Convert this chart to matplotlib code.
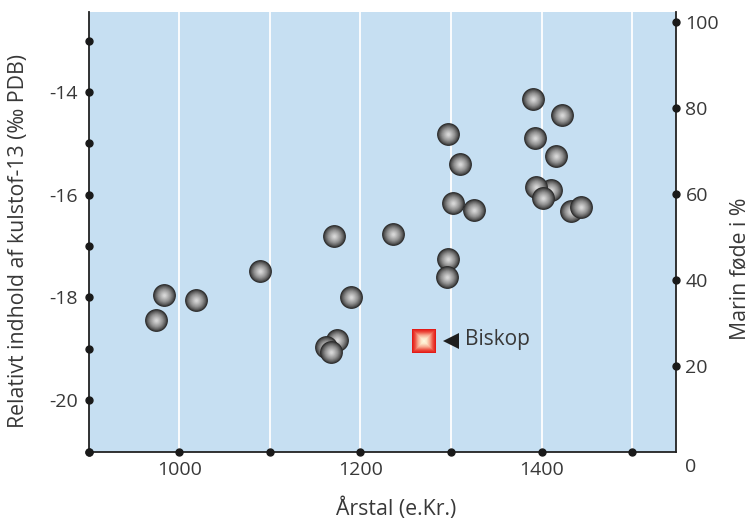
import numpy as np
import matplotlib
matplotlib.use("Agg")
import matplotlib.pyplot as plt
from matplotlib.colors import to_rgb
from matplotlib.transforms import offset_copy

plt.rcParams["font.family"] = ["Open Sans", "DejaVu Sans"]
plt.rcParams["axes.unicode_minus"] = False

# individuals: year (e.Kr.) and delta-13C (promille PDB) -- drawing order matters for overlaps
years = [974, 983, 1019, 1089, 1171, 1190, 1174, 1162, 1167, 1236,
         1297, 1310, 1302, 1325, 1297, 1296, 1391, 1422, 1393, 1416,
         1410, 1394, 1402, 1432, 1443]
d13c = [-18.44, -17.96, -18.04, -17.49, -16.81, -18.00, -18.83, -18.96, -19.07, -16.77,
        -14.82, -15.40, -16.16, -16.30, -17.25, -17.61, -14.13, -14.44, -14.89, -15.25,
        -15.91, -15.85, -16.07, -16.32, -16.24]

bishop_year = 1270
bishop_d13c = -18.84
bishop_label = "Biskop"

x_ticks = [1000, 1100, 1200, 1300, 1400, 1500]
x_labels = ["1000", "", "1200", "", "1400", ""]
x_dots = [900, 1000, 1100, 1200, 1300, 1400, 1500]
y_ticks = [-20, -18, -16, -14]
y_dots = [-21, -20, -19, -18, -17, -16, -15, -14, -13]
r_ticks = [20, 40, 60, 80, 100]

TXT = "#383838"
BG = "#c6dff2"
TICK_FS = 14
LAB_FS = 15.3

# radial shading profiles: (radius fraction, colour)
BALL = [(1.0, "#2a2a2a"), (0.86, "#555555"), (0.6, "#8e8e8e"), (0.3, "#bdbdbd"), (0.12, "#d6d6d6")]
TILE = [(1.0, "#e31b17"), (0.8, "#ec4a3c"), (0.55, "#f7a88e"), (0.3, "#fde6c8"), (0.12, "#fff6dc")]


def shaded(ax, x, y, marker, size, prof, n=12):
    """fake a shaded ball/tile by stacking shrinking markers"""
    rs = np.array([p[0] for p in prof])[::-1]
    cs = np.array([to_rgb(p[1]) for p in prof])[::-1]
    for f in np.linspace(1.0, 0.12, n):
        col = [np.interp(f, rs, cs[:, i]) for i in range(3)]
        ax.scatter([x], [y], s=size * f * f, marker=marker, color=col, lw=0, zorder=4)


fig = plt.figure(figsize=(7.51, 5.20), dpi=100)
ax = fig.add_axes([88.7 / 751, 1 - 451.5 / 520, 587 / 751, 439.5 / 520])
ax.set_facecolor(BG)
ax.set_xlim(900, 1548)
ax.set_ylim(-21, -12.44)

for x, y in zip(years, d13c):
    shaded(ax, x, y, "o", 270, BALL)
shaded(ax, bishop_year, bishop_d13c, "s", 280, TILE)

tri = offset_copy(ax.transData, fig=fig, x=19.5, y=0, units="points")
ax.plot([bishop_year], [bishop_d13c], marker="<", ms=12, color="#1e1e1e", mew=0,
        transform=tri, clip_on=False, zorder=5)
ax.annotate(bishop_label, (bishop_year, bishop_d13c), xytext=(29.5, 0.5), textcoords="offset points",
            va="center", ha="left", fontsize=15, color=TXT)

ax.set_xticks(x_ticks)
ax.set_xticklabels(x_labels)
ax.set_yticks(y_ticks)
ax.grid(axis="x", color="white", lw=1.3)
ax.grid(axis="y", visible=False)
ax.tick_params(length=0, labelsize=TICK_FS, labelcolor=TXT)
ax.tick_params(axis="x", pad=7)
ax.tick_params(axis="y", pad=8)
for s in ("top", "right"):
    ax.spines[s].set_visible(False)
for s in ("left", "bottom"):
    ax.spines[s].set_color("#222222")
    ax.spines[s].set_linewidth(1.3)

ax.plot(x_dots, np.zeros(len(x_dots)), "o", ms=5, color="#1a1a1a",
        transform=ax.get_xaxis_transform(), clip_on=False, zorder=6)
ax.plot(np.zeros(len(y_dots)), y_dots, "o", ms=5, color="#1a1a1a",
        transform=ax.get_yaxis_transform(), clip_on=False, zorder=6)

ax2 = ax.twinx()
ax2.set_ylim(0, 102.26)
ax2.set_yticks(r_ticks)
ax2.tick_params(length=0, labelsize=TICK_FS, labelcolor=TXT, pad=7)
for s in ("top", "left", "bottom"):
    ax2.spines[s].set_visible(False)
ax2.spines["right"].set_color("#222222")
ax2.spines["right"].set_linewidth(1.3)
ax2.plot(np.ones(len(r_ticks)), r_ticks, "o", ms=5, color="#1a1a1a",
         transform=ax2.get_yaxis_transform(), clip_on=False, zorder=6)
ax2.annotate("0", (1, 0), xycoords="axes fraction", xytext=(7, -11), textcoords="offset points",
             ha="left", va="center", fontsize=TICK_FS, color=TXT)

fig.text(396 / 751, 1 - 509 / 520, "Årstal (e.Kr.)", ha="center", va="center", fontsize=LAB_FS, color=TXT)
fig.text(19 / 751, 1 - 241 / 520, "Relativt indhold af kulstof-13 (‰ PDB)", rotation=90,
         ha="center", va="center", fontsize=LAB_FS, color=TXT)
fig.text(740 / 751, 1 - 269 / 520, "Marin føde i %", rotation=90,
         ha="center", va="center", fontsize=LAB_FS, color=TXT)

fig.savefig("out.png", dpi=100)
